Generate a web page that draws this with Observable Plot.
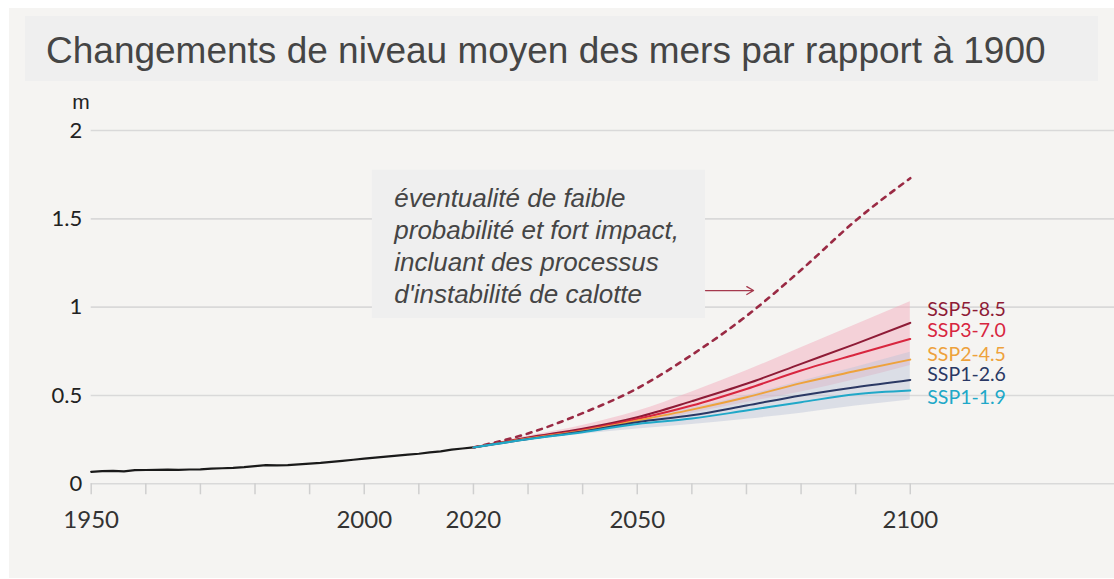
<!DOCTYPE html>
<html>
<head>
<meta charset="utf-8">
<script src="https://cdn.jsdelivr.net/npm/d3@7"></script>
<script src="https://cdn.jsdelivr.net/npm/@observablehq/plot@0.6"></script>
<style>
  html, body { margin: 0; padding: 0; background: #ffffff; }
  #wrap { position: relative; width: 1114px; height: 579px; overflow: hidden; }
  #panel { position: absolute; left: 9px; top: 8px; width: 1105px; height: 570px; background: #f5f4f2; }
  #title { position: absolute; left: 25px; top: 16px; width: 1073px; height: 65px; background: #efefef;
           font-family: "Liberation Sans", Arial, sans-serif; font-size: 37px; color: #454545;
           line-height: 70px; padding-left: 21px; box-sizing: border-box; white-space: nowrap; }
  #chart { position: absolute; left: 0; top: 0; }
</style>
</head>
<body>
<div id="wrap">
  <div id="panel"></div>
  <div id="title">Changements de niveau moyen des mers par rapport à 1900</div>
  <div id="chart"></div>
</div>
<script>
// ---------- data ----------
const histYears = [1950,1952,1954,1956,1958,1960,1962,1964,1966,1968,1970,1972,1974,1976,1978,1980,1982,1984,1986,1988,1990,1992,1994,1996,1998,2000,2002,2004,2006,2008,2010,2012,2014,2016,2018,2020];
const histValues = [0.068,0.072,0.073,0.070,0.077,0.078,0.079,0.080,0.079,0.081,0.082,0.086,0.088,0.090,0.094,0.100,0.106,0.104,0.106,0.110,0.114,0.118,0.124,0.130,0.136,0.142,0.148,0.154,0.160,0.165,0.170,0.178,0.184,0.193,0.200,0.206];

const projYears = [2020,2030,2040,2050,2060,2070,2080,2090,2100];
const ssp585 = [0.206,0.262,0.312,0.377,0.468,0.566,0.679,0.792,0.911];
const ssp370 = [0.206,0.258,0.305,0.367,0.443,0.537,0.641,0.732,0.820];
const ssp245 = [0.206,0.256,0.300,0.358,0.420,0.490,0.570,0.638,0.703];
const ssp126 = [0.206,0.254,0.296,0.349,0.388,0.443,0.500,0.547,0.588];
const ssp119 = [0.206,0.252,0.292,0.339,0.369,0.415,0.462,0.507,0.528];
const lowLikelihood = [0.206,0.285,0.400,0.540,0.730,0.950,1.210,1.490,1.730];

const rangeHighHi = [0.206,0.270,0.330,0.410,0.520,0.640,0.770,0.900,1.030];
const rangeHighLo = [0.206,0.245,0.290,0.340,0.400,0.460,0.520,0.590,0.670];
const rangeLowHi  = [0.206,0.260,0.310,0.370,0.430,0.500,0.580,0.660,0.745];
const rangeLowLo  = [0.206,0.245,0.280,0.310,0.335,0.365,0.400,0.440,0.475];

const scenarioNames = ["SSP5-8.5","SSP3-7.0","SSP2-4.5","SSP1-2.6","SSP1-1.9"];
const scenarioSeries = [ssp585, ssp370, ssp245, ssp126, ssp119];

const yTicks = [0, 0.5, 1, 1.5, 2];
const xTickMarks = d3.range(1950, 2101, 10);
const xTickLabels = [1950, 2000, 2020, 2050, 2100];

const annotationText = "éventualité de faible\nprobabilité et fort impact,\nincluant des processus\nd'instabilité de calotte";

// ---------- styling / layout ----------
const colors = {
  "SSP5-8.5": "#8e1b36",
  "SSP3-7.0": "#d8263f",
  "SSP2-4.5": "#eea23c",
  "SSP1-2.6": "#2a3864",
  "SSP1-1.9": "#20a8c8"
};
// label vertical offset (in metres) from each line's end, to keep labels apart
const labelShift = {"SSP5-8.5": 0.072, "SSP3-7.0": 0.044, "SSP2-4.5": 0.030, "SSP1-2.6": 0.027, "SSP1-1.9": -0.042};
const annotBox = {x1: 2001.5, x2: 2062.5, y1: 0.936, y2: 1.775};
const annotTextPos = {x: 2005.5, y: 1.353};
const arrowPos = {x1: 2062.5, x2: 2071.3, y: 1.094};

// ---------- tables ----------
const hist = histYears.map((year, i) => ({year, value: histValues[i]}));
const proj = scenarioNames.flatMap((name, s) =>
  projYears.map((year, i) => ({name, year, value: scenarioSeries[s][i]})));
const lowLik = projYears.map((year, i) => ({year, value: lowLikelihood[i]}));
const bandHigh = projYears.map((year, i) => ({year, lo: rangeHighLo[i], hi: rangeHighHi[i]}));
const bandLow = projYears.map((year, i) => ({year, lo: rangeLowLo[i], hi: rangeLowHi[i]}));
const endLabels = scenarioNames.map((name, s) => ({
  name, year: 2100, value: scenarioSeries[s][scenarioSeries[s].length - 1] + labelShift[name]
}));

const lato = "Lato, 'DejaVu Sans', sans-serif";
const sans = "'Liberation Sans', Arial, sans-serif";

const chart = Plot.plot({
  width: 1114,
  height: 579,
  marginLeft: 90.7,
  marginRight: 0,
  marginTop: 130,
  marginBottom: 95.7,
  style: {background: "transparent", fontFamily: lato, color: "#222"},
  x: {domain: [1950, 2137.4], label: null},
  y: {domain: [0, 2], label: null},
  marks: [
    Plot.ruleY(yTicks, {stroke: "#d9d9d9", strokeWidth: 1.6}),
    Plot.rect([annotBox], {x1: "x1", x2: "x2", y1: "y1", y2: "y2", fill: "#efefef"}),
    Plot.axisX({ticks: xTickMarks, tickSize: 11, tickFormat: () => "", stroke: "#cfcfcf", strokeWidth: 1.5}),
    Plot.axisX({ticks: xTickLabels, tickSize: 0, tickPadding: 27, tickFormat: d => String(d),
                fontSize: 24, fill: "#333"}),
    Plot.axisY({ticks: yTicks, tickSize: 0, tickPadding: 9, tickFormat: d => String(d),
                fontSize: 22, fill: "#222"}),
    Plot.text(["m"], {frameAnchor: "top-left", dx: -19, dy: -36, fontSize: 21, fill: "#222",
                      fontFamily: sans}),
    Plot.areaY(bandHigh, {x: "year", y1: "lo", y2: "hi", fill: "#f4aebd", fillOpacity: 0.5, curve: "monotone-x"}),
    Plot.areaY(bandLow, {x: "year", y1: "lo", y2: "hi", fill: "#bcc3d8", fillOpacity: 0.45, curve: "monotone-x"}),
    Plot.line(hist, {x: "year", y: "value", stroke: "#1a1a1a", strokeWidth: 2.2}),
    Plot.line(lowLik, {x: "year", y: "value", stroke: "#9a2a44", strokeWidth: 2.6,
                       strokeDasharray: "5,6", curve: "monotone-x"}),
    Plot.line(proj, {x: "year", y: "value", z: "name", stroke: d => colors[d.name],
                     strokeWidth: 2, curve: "monotone-x"}),
    Plot.text(endLabels, {x: "year", y: "value", text: "name", fill: d => colors[d.name],
                          textAnchor: "start", dx: 17, fontSize: 19.5, fontFamily: lato}),
    Plot.arrow([arrowPos], {x1: "x1", x2: "x2", y1: "y", y2: "y", stroke: "#a5394d",
                            strokeWidth: 1.3, headLength: 9}),
    Plot.text([annotTextPos], {x: "x", y: "y", text: () => annotationText, textAnchor: "start",
                               lineAnchor: "middle", lineHeight: 1.22, fontSize: 26, fontStyle: "italic",
                               fill: "#454545", fontFamily: sans})
  ]
});
document.getElementById("chart").appendChild(chart);
</script>
</body>
</html>
